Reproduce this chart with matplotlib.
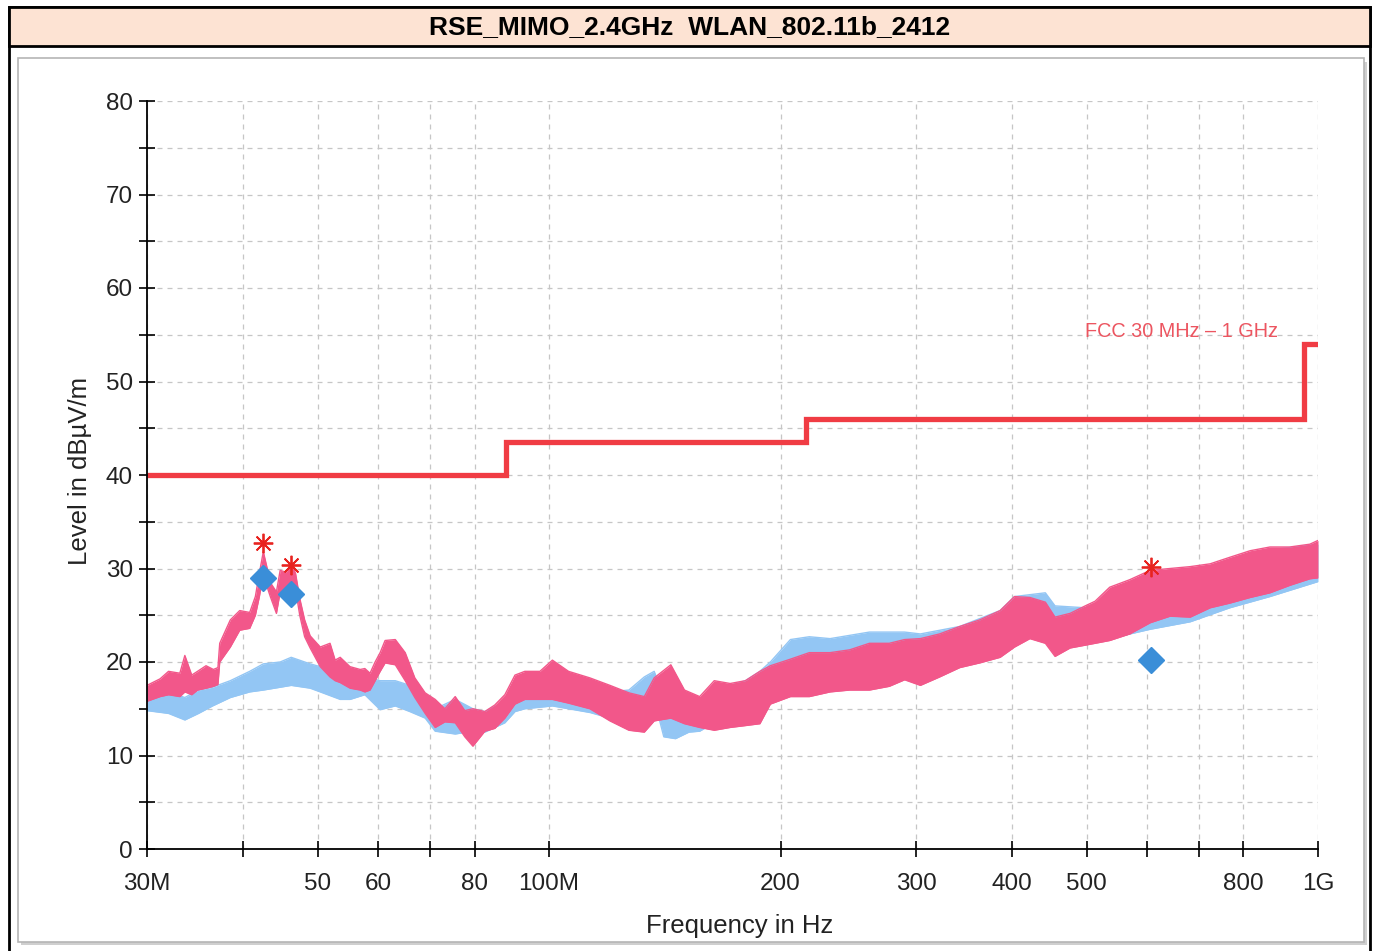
import matplotlib
matplotlib.use('Agg')
import matplotlib.pyplot as plt
from matplotlib.patches import Rectangle
from matplotlib.ticker import FixedLocator, NullLocator

plt.rcParams['font.family'] = ['Liberation Sans', 'DejaVu Sans']

# FCC Part 15 radiated limit (dBuV/m), frequency edges in MHz
limit_edges = [30, 88, 216, 960, 1000]
limit_levels = [40, 43.5, 46, 54]

# horizontal scan (pink): frequency in MHz, lower / upper envelope in dBuV/m
pink_freq = [30, 31.2, 32, 33.1, 33.6, 34.3, 34.9, 35.8, 36.6, 37.1, 37.3, 38.5, 39.6,
             40.8, 41.5, 42.0, 42.5, 43.0, 43.4, 44.2, 44.7, 45.5, 46.2, 46.8, 47.4,
             48.1, 48.9, 50.4, 51.9, 52.7, 53.5, 55.1, 56.8, 57.6, 58.5, 59.4, 60.3,
             61.2, 63.1, 65.0, 66.9, 69.0, 71.1, 73.2, 75.5, 77.7, 79.6, 82.5, 85.0,
             87.6, 90.3, 93.0, 97.3, 101, 106, 113, 120, 127, 133, 137, 144, 150, 157,
             164, 172, 180, 188, 194, 206, 218, 232, 246, 261, 277, 290, 304, 322, 342,
             363, 386, 403, 422, 442, 455, 476, 498, 513, 536, 569, 605, 642, 682, 724,
             768, 816, 866, 919, 976, 1000]
pink_lo = [15.8, 16.3, 16.5, 16.3, 16.8, 16.5, 17.0, 17.2, 17.4, 17.6, 20.0, 21.6, 23.4,
           23.6, 25.0, 27.0, 29.5, 28.0, 27.0, 25.2, 27.5, 28.0, 28.5, 27.8, 25.0,
           22.7, 21.5, 19.5, 18.4, 18.0, 17.8, 17.2, 17.0, 16.8, 17.0, 18.0, 19.0,
           19.9, 19.7, 18.0, 16.2, 14.5, 13.0, 13.6, 13.5, 12.0, 11.0, 12.6, 12.9,
           14.0, 15.5, 16.0, 16.0, 16.0, 15.6, 15.0, 13.7, 12.7, 12.5, 13.7, 14.0, 13.4, 13.0,
           12.7, 13.0, 13.2, 13.4, 15.5, 16.3, 16.3, 16.8, 17.0, 17.0, 17.4, 18.1, 17.5, 18.4, 19.4,
           19.9, 20.5, 21.6, 22.5, 22.0, 20.6, 21.5, 21.8, 22.0, 22.3, 23.0, 24.2, 24.9, 24.8, 25.8,
           26.3, 26.9, 27.4, 28.2, 28.9, 29.0]
pink_hi = [17.5, 18.2, 19.0, 18.8, 20.7, 18.6, 19.0, 19.6, 19.2, 19.4, 22.0, 24.5, 25.5,
           25.3, 27.0, 29.5, 31.8, 30.0, 28.5, 27.5, 29.8, 29.6, 30.5, 29.5, 26.8,
           24.5, 22.8, 21.6, 22.0, 20.2, 20.5, 19.5, 19.2, 19.3, 18.8, 20.0, 21.0,
           22.3, 22.4, 21.0, 18.3, 16.7, 16.0, 15.0, 16.3, 14.8, 15.0, 14.7, 15.4,
           16.5, 18.6, 19.0, 19.0, 20.2, 19.0, 18.3, 17.5, 16.7, 16.3, 18.3, 19.7, 17.0, 16.3,
           18.0, 17.7, 18.0, 19.0, 19.6, 20.3, 21.0, 21.0, 21.3, 22.0, 22.0, 22.4, 22.5, 23.0, 23.8,
           24.5, 25.5, 27.0, 26.9, 26.4, 24.8, 25.2, 26.0, 26.5, 28.0, 28.8, 29.8, 30.0, 30.2, 30.5,
           31.2, 31.9, 32.3, 32.3, 32.6, 33.0]

# vertical scan (blue)
blue_freq = [30, 32, 33.6, 35, 36.5, 38.5, 40.8, 42.5, 44.7, 46.2, 48.9, 50.4, 53.5, 55.1,
             57.6, 60.3, 63.1, 65.9, 69.0, 71.1, 75.5, 79.6, 82.5, 87.6, 90.3, 93.0, 101,
             106, 113, 120, 127, 133, 137, 141, 146, 152, 157, 164, 172, 180, 188, 194,
             206, 218, 232, 261, 290, 304, 342, 386, 403, 442, 455, 498, 536, 605, 682,
             768, 866, 1000]
blue_lo = [14.8, 14.5, 13.8, 14.5, 15.3, 16.2, 16.8, 17.0, 17.3, 17.5, 17.2, 16.8, 16.0, 16.0,
           16.5, 14.9, 15.3, 14.7, 14.0, 12.6, 12.3, 12.6, 12.5, 13.5, 14.7, 15.0, 15.3,
           15.0, 14.6, 14.0, 13.8, 15.3, 16.0, 12.0, 11.8, 12.5, 12.6, 13.5, 14.0, 14.2, 15.0, 16.5,
           18.0, 18.8, 18.5, 18.5, 19.6, 20.0, 20.5, 21.0, 23.7, 24.0, 22.0, 22.0, 22.5, 23.5, 24.3,
           25.8, 27.0, 28.6]
blue_hi = [16.5, 16.8, 16.2, 17.0, 17.3, 18.0, 19.0, 19.8, 20.0, 20.5, 19.8, 19.5, 17.7, 18.0,
           18.4, 18.0, 18.0, 17.5, 16.0, 15.0, 16.0, 15.0, 14.7, 15.8, 16.5, 17.3, 17.8,
           17.6, 17.0, 16.8, 17.0, 18.4, 19.0, 16.2, 14.6, 15.2, 15.8, 17.0, 17.5, 18.0, 19.0, 20.0,
           22.4, 22.7, 22.5, 23.2, 23.2, 23.0, 23.8, 25.5, 27.0, 27.4, 26.0, 25.8, 27.0, 28.8, 29.5,
           30.8, 32.0, 32.6]

# peak (star) and quasi-peak (diamond) results
peak_freq = [42.5, 46.2, 606]
peak_level = [32.7, 30.4, 30.2]
qp_freq = [42.5, 46.2, 606]
qp_level = [29.0, 27.3, 20.2]

xtick_freq = [30, 40, 50, 60, 70, 80, 100, 200, 300, 400, 500, 600, 700, 800, 1000]
xtick_text = ['30M', '', '50', '60', '', '80', '100M', '200', '300', '400', '500', '', '', '800', '1G']
ytick_vals = list(range(0, 85, 5))
ytick_text = [str(v) if v % 10 == 0 else '' for v in ytick_vals]

W, H = 1373, 951
fig = plt.figure(figsize=(W / 100, H / 100), dpi=100)


def box(x0, y0, x1, y1, **kw):
    fig.add_artist(Rectangle((x0 / W, 1 - y1 / H), (x1 - x0) / W, (y1 - y0) / H,
                             transform=fig.transFigure, **kw))


# report frame, title bar and the chart panel with its shadow
box(9, 7, 1370, 990, fill=False, ec='black', lw=2, zorder=-5)
box(9, 7, 1370, 46, fc='#fde3d3', ec='black', lw=2, zorder=-4)
box(21, 62, 1367, 945, fc='#cfcfcf', ec='none', zorder=-3)
box(18, 58, 1364, 942, fc='white', ec='#b5b5b5', lw=1.2, zorder=-2)
fig.text(690 / W, 1 - 27 / H, 'RSE_MIMO_2.4GHz  WLAN_802.11b_2412', ha='center', va='center',
         fontsize=19, fontweight='bold', color='black')

ax = fig.add_axes([147 / W, 1 - 849 / H, (1318 - 147) / W, (849 - 101) / H])
ax.patch.set_alpha(0)

mhz = lambda vals: [v * 1e6 for v in vals]

ax.fill_between(mhz(blue_freq), blue_lo, blue_hi, color='#93c6f4', lw=0, zorder=2)
ax.plot(mhz(blue_freq), blue_hi, color='#93c6f4', lw=1.0, zorder=2)
ax.plot(mhz(blue_freq), blue_lo, color='#93c6f4', lw=1.0, zorder=2)
ax.fill_between(mhz(pink_freq), pink_lo, pink_hi, color='#f2578a', lw=0, zorder=3)
ax.plot(mhz(pink_freq), pink_hi, color='#f2578a', lw=1.0, zorder=3)
ax.plot(mhz(pink_freq), pink_lo, color='#f2578a', lw=1.0, zorder=3)

ax.stairs(limit_levels, mhz(limit_edges), baseline=None, color='#f03c44', lw=3.8, zorder=4)
ax.text(498e6, 55.4, 'FCC 30 MHz \u2013 1 GHz', color='#ec5560', fontsize=14.3,
        ha='left', va='center', zorder=1)

ax.plot(mhz(qp_freq), qp_level, ls='none', marker='D', ms=13.5, color='#3a8ed8', zorder=5)
ax.plot(mhz(peak_freq), peak_level, ls='none', marker=(8, 2, 0), ms=14, mew=1.3,
        color='#e8231f', zorder=6)

ax.set_xscale('log')
ax.set_xlim(30e6, 1e9)
ax.set_ylim(0, 80)
ax.xaxis.set_major_locator(FixedLocator(mhz(xtick_freq)))
ax.xaxis.set_minor_locator(NullLocator())
ax.set_xticklabels(xtick_text)
ax.yaxis.set_major_locator(FixedLocator(ytick_vals))
ax.set_yticklabels(ytick_text)

ax.grid(True, ls=(0, (4, 4)), color='#c6c6c6', lw=0.9)
ax.set_axisbelow(True)
for s in ['top', 'right']:
    ax.spines[s].set_visible(False)
for s in ['left', 'bottom']:
    ax.spines[s].set_linewidth(1.3)
    ax.spines[s].set_zorder(7)
ax.tick_params(axis='both', direction='inout', length=12, width=1.2, labelsize=17.5,
               labelcolor='#222222')
ax.tick_params(axis='x', pad=11.5)
ax.tick_params(axis='y', pad=4)

ax.set_xlabel('Frequency in Hz', fontsize=18.5, color='#222222')
ax.set_ylabel('Level in dB\u00b5V/m', fontsize=18.5, color='#222222')
ax.xaxis.set_label_coords(0.506, -0.087)
ax.yaxis.set_label_coords(-0.047, 0.505)

fig.savefig('out.png', dpi=100)
